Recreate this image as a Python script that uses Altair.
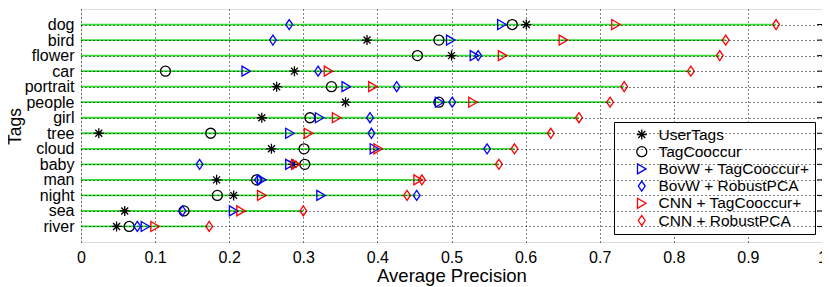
import altair as alt
import pandas as pd

tags = ["dog", "bird", "flower", "car", "portrait", "people", "girl",
        "tree", "cloud", "baby", "man", "night", "sea", "river"]

series_names = ["UserTags", "TagCooccur", "BovW + TagCooccur+",
                "BovW + RobustPCA", "CNN + TagCooccur+", "CNN + RobustPCA"]

user_tags   = [0.601, 0.386, 0.500, 0.288, 0.264, 0.357, 0.244, 0.024, 0.257, 0.286, 0.183, 0.206, 0.059, 0.048]
tag_cooccur = [0.582, 0.483, 0.454, 0.114, 0.338, 0.483, 0.309, 0.175, 0.301, 0.302, 0.237, 0.184, 0.139, 0.065]
bovw_tc     = [0.568, 0.499, 0.531, 0.223, 0.358, 0.484, 0.322, 0.282, 0.396, 0.282, 0.244, 0.324, 0.206, 0.087]
bovw_rpca   = [0.281, 0.259, 0.536, 0.320, 0.426, 0.501, 0.390, 0.392, 0.548, 0.160, 0.239, 0.453, 0.137, 0.076]
cnn_tc      = [0.722, 0.651, 0.569, 0.334, 0.394, 0.529, 0.345, 0.307, 0.401, 0.290, 0.455, 0.244, 0.216, 0.100]
cnn_rpca    = [0.938, 0.870, 0.862, 0.823, 0.733, 0.714, 0.672, 0.634, 0.585, 0.564, 0.460, 0.440, 0.300, 0.173]

series_values = [user_tags, tag_cooccur, bovw_tc, bovw_rpca, cnn_tc, cnn_rpca]
series_colors = ["#000000", "#000000", "#0000ff", "#0000ff", "#ff0000", "#ff0000"]
asterisk = "M0,-1L0,1M-1,0L1,0M-0.7,-0.7L0.7,0.7M-0.7,0.7L0.7,-0.7"
triangle = "M-0.85,-1L0.85,0L-0.85,1Z"
diamond = "M0,-1L0.68,0L0,1L-0.68,0Z"
series_shapes = [asterisk, "circle", triangle, diamond, triangle, diamond]

x_ticks = [0, 0.1, 0.2, 0.3, 0.4, 0.5, 0.6, 0.7, 0.8, 0.9, 1]

rows = []
for k, (name, vals) in enumerate(zip(series_names, series_values)):
    for t, v in zip(tags, vals):
        rows.append({"tag": t, "series": name, "ap": v, "k": k})
df = pd.DataFrame(rows)

row_max = [max(vals[i] for vals in series_values) for i in range(len(tags))]
df_max = pd.DataFrame({"tag": tags, "ap_max": row_max,
                       "zero": [0.0] * len(tags),
                       "edge0": [0.9935] * len(tags), "edge1": [1.0] * len(tags)})

FONT = "Liberation Sans"

yscale = alt.Scale(type="point", padding=1, domain=tags)
xscale = alt.Scale(domain=[0, 1], nice=False, zero=False)

y_axis = alt.Axis(title="Tags", grid=True, gridColor="#000000",
                  gridDash=[1, 3], gridOpacity=1, gridWidth=1,
                  ticks=False, domain=False, labelPadding=7,
                  labelFontSize=16, labelColor="#000000", labelFont=FONT,
                  titleFontSize=17.5, titleFontWeight="normal", titleFont=FONT,
                  titleColor="#000000", titleX=-60.5, titleY=117,
                  titleBaseline="alphabetic", titleAlign="center", titleAngle=270,
                  zindex=1)

x_axis = alt.Axis(title="Average Precision", values=x_ticks, format="~g",
                  grid=True, gridColor="#000000", gridDash=[1, 3],
                  gridOpacity=1, gridWidth=1, ticks=False, domain=False,
                  labelPadding=7, labelFontSize=16, labelColor="#000000", labelFont=FONT,
                  titleFontSize=18.5, titleFontWeight="normal", titleFont=FONT,
                  titleColor="#000000", titleY=39, titleBaseline="alphabetic",
                  labelFlush=False)

green = alt.Chart(df_max).mark_rule(color="#33dd33", strokeWidth=1.8).encode(
    x=alt.X("zero:Q", scale=xscale, axis=x_axis),
    x2="ap_max:Q",
    y=alt.Y("tag:N", sort=tags, scale=yscale, axis=y_axis),
)

rticks = alt.Chart(df_max).mark_rule(color="#000000", strokeWidth=1).encode(
    x=alt.X("edge0:Q", scale=xscale, axis=x_axis),
    x2="edge1:Q",
    y=alt.Y("tag:N", sort=tags, scale=yscale, axis=y_axis),
)

points = alt.Chart(df).mark_point(filled=False, size=100, strokeWidth=1.3, opacity=1).encode(
    x=alt.X("ap:Q", scale=xscale, axis=x_axis),
    y=alt.Y("tag:N", sort=tags, scale=yscale, axis=y_axis),
    color=alt.Color("series:N", sort=series_names,
                    scale=alt.Scale(domain=series_names, range=series_colors),
                    legend=alt.Legend(title=None, orient="none", legendX=533, legendY=113,
                                      fillColor="#ffffff", strokeColor="#000000",
                                      padding=5, labelFontSize=15.5, labelFont=FONT,
                                      labelColor="#000000", labelOffset=9,
                                      symbolOffset=15, rowPadding=1.2, clipHeight=15,
                                      symbolStrokeWidth=1.3, symbolSize=100,
                                      labelLimit=400)),
    shape=alt.Shape("series:N", sort=series_names,
                    scale=alt.Scale(domain=series_names, range=series_shapes),
                    legend=None),
    order=alt.Order("k:Q"),
)

chart = alt.layer(green, rticks, points).properties(
    width=741, height=233,
    autosize=alt.AutoSizeParams(type="none"),
    padding={"left": 73, "top": 1, "right": 0, "bottom": 45},
).configure_view(stroke="#000000", strokeWidth=1).configure(
    font=FONT
).configure_axis(labelFontSize=16, labelFont=FONT, titleFont=FONT)

chart.save("out.html", embed_options={"renderer": "svg", "actions": False})
